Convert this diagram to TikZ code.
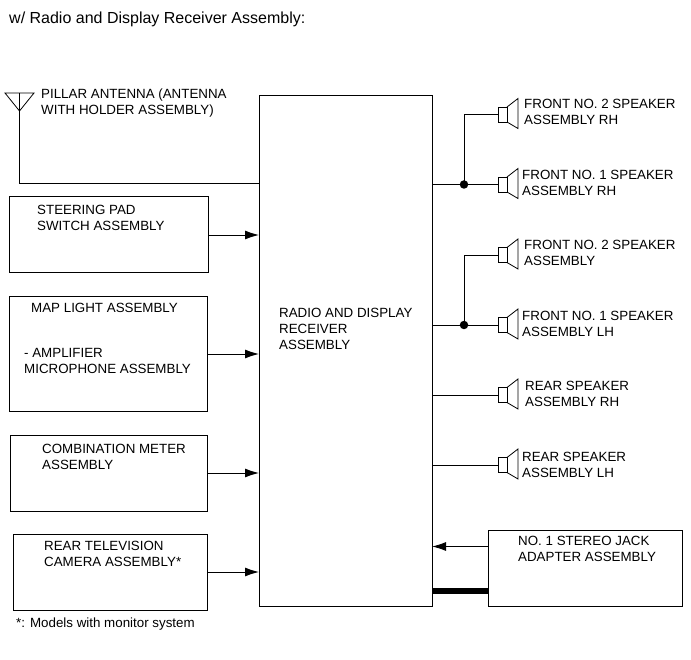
\documentclass[tikz,border=0pt]{standalone}
\usepackage{fontspec}
\setmainfont{Liberation Sans}
\tikzset{x=1pt,y=-1pt,
  lab/.style={anchor=north west,inner sep=0pt,align=left,font=\fontsize{13.35}{16}\selectfont},
  box/.style={draw,line width=1pt,inner sep=0pt,outer sep=0pt,anchor=north west},
  wire/.style={line width=0.9pt},
  arr/.style={line width=0.9pt,-{Latex[length=14pt,width=9pt]}},
  spk/.style={draw,line width=0.8pt,inner sep=0pt,outer sep=0pt,minimum width=9pt,minimum height=15pt},
  horn/.style={line width=0.8pt},
  dotj/.style={circle,fill=black,inner sep=0pt,minimum size=8.5pt}}
\usetikzlibrary{arrows.meta}
\newcommand{\spkr}[2]{% name, y
  \node[spk] (#1) at (502.5,#2) {};
  \draw[horn] (#1.north east) -- ++(11,-8.5) -- ++(0,30) -- (#1.south east);
}
\newcommand{\boxn}[5]{\node[box,minimum width=#4pt-#2pt,minimum height=#5pt-#3pt] (#1) at (#2,#3) {};}
\begin{document}
\begin{tikzpicture}
\useasboundingbox (0,0) rectangle (691,660);
\node[lab,font=\fontsize{16}{19}\selectfont] (title) at (9,12) {w/ Radio and Display Receiver Assembly:};
% main
\boxn{main}{259}{96}{432}{606}
\node[lab] (mainl) at (279,308) {RADIO AND DISPLAY\\RECEIVER\\ASSEMBLY};
% left boxes
\boxn{steer}{9}{197}{208}{273}
\boxn{map}{9}{297}{207}{411}
\boxn{meter}{10}{435}{207}{511}
\boxn{cam}{13}{534}{207}{610}
\node[lab] (steerl) at (37,205) {STEERING PAD\\SWITCH ASSEMBLY};
\node[lab] (mapl) at (31,303) {MAP LIGHT ASSEMBLY};
\node[lab] (ampl) at (24,348) {- AMPLIFIER\\MICROPHONE ASSEMBLY};
\node[lab] (meterl) at (42,444) {COMBINATION METER\\ASSEMBLY};
\node[lab] (caml) at (44,541) {REAR TELEVISION\\CAMERA ASSEMBLY*};
\node[lab] (foot) at (16,618) {*: Models with monitor system};
\draw[arr] (steer.east) -- (main.west |- steer.east);
\draw[arr] (map.east) -- (main.west |- map.east);
\draw[arr] (meter.east) -- (main.west |- meter.east);
\draw[arr] (cam.east) -- (main.west |- cam.east);
% antenna
\coordinate (apex) at (19.5,111);
\coordinate (antbot) at (19.5,183.5);
\draw[line width=0.8pt] (5,93) -- (34,93) -- (apex) -- cycle;
\draw[line width=0.8pt] (19.5,93) -- (apex);
\draw[wire] (apex) -- (antbot) -- (main.west |- antbot);
\node[lab] (antl) at (41,89) {PILLAR ANTENNA (ANTENNA\\WITH HOLDER ASSEMBLY)};
% speakers
\spkr{sa}{114.5}
\spkr{sb}{184.5}
\spkr{sc}{255}
\spkr{sd}{325}
\spkr{se}{395}
\spkr{sf}{465}
\node[lab] (sal) at (524,99) {FRONT NO. 2 SPEAKER\\ASSEMBLY RH};
\node[lab] (sbl) at (522,170) {FRONT NO. 1 SPEAKER\\ASSEMBLY RH};
\node[lab] (scl) at (524,240) {FRONT NO. 2 SPEAKER\\ASSEMBLY};
\node[lab] (sdl) at (522,311) {FRONT NO. 1 SPEAKER\\ASSEMBLY LH};
\node[lab] (sel) at (525,381) {REAR SPEAKER\\ASSEMBLY RH};
\node[lab] (sfl) at (522,452) {REAR SPEAKER\\ASSEMBLY LH};
\node[dotj] (j1) at (464,184.5) {};
\node[dotj] (j2) at (464,325) {};
\draw[wire] (main.east |- sb.west) -- (sb.west);
\draw[wire] (main.east |- sd.west) -- (sd.west);
\draw[wire] (main.east |- se.west) -- (se.west);
\draw[wire] (main.east |- sf.west) -- (sf.west);
\draw[wire] (j1.center) |- (sa.west);
\draw[wire] (j2.center) |- (sc.west);
% jack
\boxn{jack}{488}{530}{682}{606}
\node[lab] (jackl) at (518,536) {NO. 1 STEREO JACK\\ADAPTER ASSEMBLY};
\coordinate (ja) at (488,546.5);
\coordinate (jb) at (488,590.5);
\draw[arr] (ja) -- (main.east |- ja);
\draw[line width=6pt] (jb) -- (main.east |- jb);
\end{tikzpicture}
\end{document}
